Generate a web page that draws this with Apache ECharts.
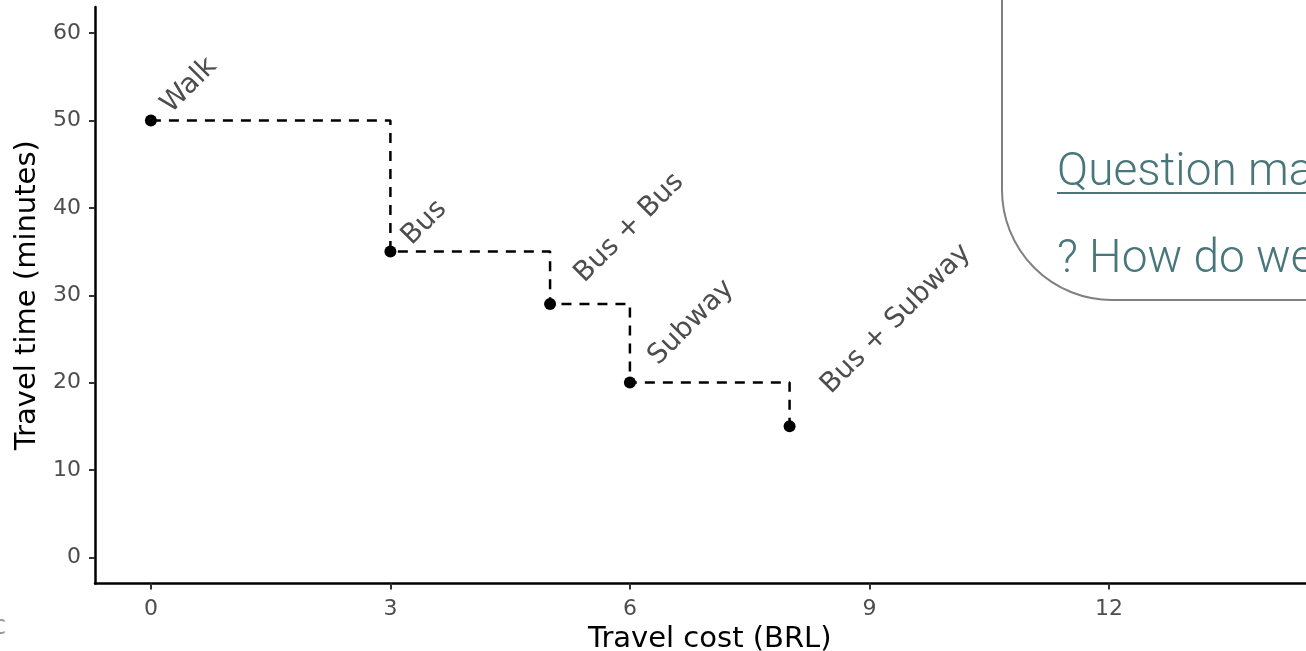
<!DOCTYPE html>
<html>
<head>
<meta charset="utf-8">
<script src="https://cdn.jsdelivr.net/npm/echarts@6/dist/echarts.min.js"></script>
<style>
html,body{margin:0;padding:0;background:#fff;}
#chart{width:1306px;height:651px;}
</style>
</head>
<body>
<div id="chart"></div>
<script>
// ---- data ----
var modes = ['Walk', 'Bus', 'Bus + Bus', 'Subway', 'Bus + Subway'];
var travelCost = [0, 3, 5, 6, 8];        // BRL
var travelTime = [50, 35, 29, 20, 15];   // minutes
var xTicks = [0, 3, 6, 9, 12];
var yTicks = [0, 10, 20, 30, 40, 50, 60];

// label placement (pixel offsets, style only)
var labelPos = [[31, 4], [32, 5], [45, -10], [39, -6], [52, -21]];

var points = travelCost.map(function (c, i) { return [c, travelTime[i]]; });

var chart = echarts.init(document.getElementById('chart'));
var teal = '#48767a';
var option = {
  backgroundColor: '#ffffff',
  animation: false,
  grid: { left: 95, top: 7, width: 1229.5, height: 576.5, containLabel: false, outerBoundsMode: 'none' },
  xAxis: {
    type: 'value', min: -0.7, max: 14.7,
    name: 'Travel cost (BRL)', nameLocation: 'middle', nameGap: 38,
    nameTextStyle: { fontFamily: 'DejaVu Sans', fontSize: 29, color: '#000' },
    axisLine: { show: true, onZero: false, lineStyle: { color: '#000', width: 2.5 } },
    axisTick: { show: true, length: 6, customValues: xTicks, lineStyle: { color: '#333', width: 2 } },
    axisLabel: { customValues: xTicks, margin: 15, fontFamily: 'DejaVu Sans', fontSize: 22, color: '#4d4d4d' },
    splitLine: { show: false }
  },
  yAxis: {
    type: 'value', min: -3, max: 63,
    name: 'Travel time (minutes)', nameLocation: 'middle', nameGap: 45, nameRotate: 90,
    nameTextStyle: { fontFamily: 'DejaVu Sans', fontSize: 29, color: '#000' },
    axisLine: { show: true, onZero: false, lineStyle: { color: '#000', width: 2.5 } },
    axisTick: { show: true, length: 6, customValues: yTicks, lineStyle: { color: '#333', width: 2 } },
    axisLabel: { customValues: yTicks, margin: 14, fontFamily: 'DejaVu Sans', fontSize: 22, color: '#4d4d4d' },
    splitLine: { show: false }
  },
  series: [
    {
      type: 'line', step: 'end', data: points, symbol: 'none',
      lineStyle: { color: '#000', width: 2.5, type: [10, 8] }, z: 2
    },
    {
      type: 'scatter', symbol: 'circle', symbolSize: 12,
      itemStyle: { color: '#000', opacity: 1 }, z: 3,
      data: points.map(function (p, i) {
        return {
          value: p,
          label: {
            show: true, formatter: modes[i], position: labelPos[i], rotate: 45,
            align: 'left', verticalAlign: 'bottom',
            fontFamily: 'DejaVu Sans', fontSize: 27.5, color: '#4d4d4d'
          }
        };
      })
    }
  ],
  graphic: [
    { type: 'rect', z: 100, x: 1002, y: -120, shape: { x: 0, y: 0, width: 420, height: 420, r: 110 },
      style: { fill: '#ffffff', stroke: '#808080', lineWidth: 2 } },
    { type: 'text', z: 101, x: 1057, y: 173,
      style: { text: 'Question marks', fontFamily: 'Roboto', fontWeight: 300, fontSize: 46, fill: teal, verticalAlign: 'middle', align: 'left' } },
    { type: 'line', z: 101, shape: { x1: 1057, y1: 193, x2: 1320, y2: 193 },
      style: { stroke: teal, lineWidth: 2 } },
    { type: 'text', z: 101, x: 1057, y: 260,
      style: { text: '? How do we', fontFamily: 'Roboto', fontWeight: 300, fontSize: 46, fill: teal, verticalAlign: 'middle', align: 'left' } },
    { type: 'text', z: 101, x: -8, y: 627,
      style: { text: 'c', fontFamily: 'DejaVu Sans', fontSize: 26, fill: '#9a9a9a', verticalAlign: 'middle', align: 'left' } }
  ]
};
chart.setOption(option);
</script>
</body>
</html>
